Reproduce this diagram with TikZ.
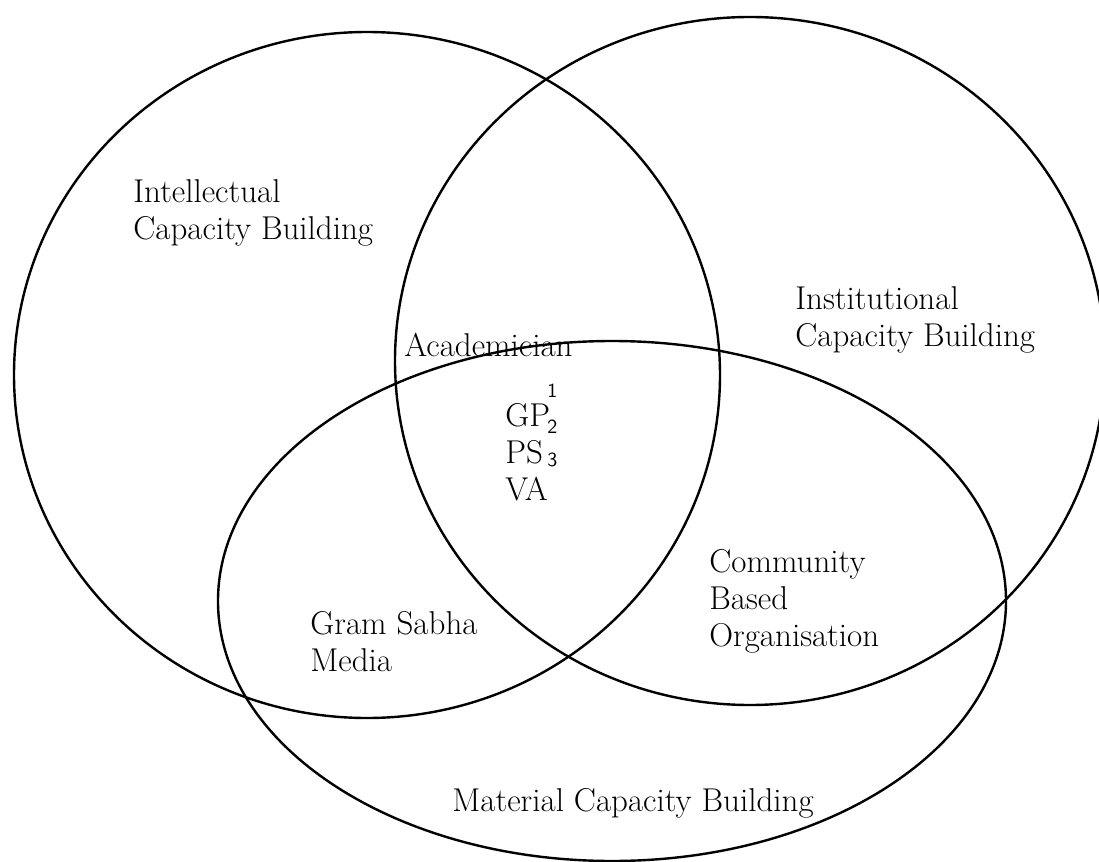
\documentclass[tikz,border=0pt]{standalone}
\usepackage{tikz}

\begin{document}
\begin{tikzpicture}[x=0.5pt, y=-0.5pt,
    set/.style={line width=1.2pt},
    lbl/.style={anchor=base west, inner sep=0pt, align=left, font=\fontsize{16.5}{18.5}\selectfont},
    idx/.style={anchor=base west, inner sep=0pt, font=\sffamily\fontsize{10}{12}\selectfont}]
    \useasboundingbox (0,0) rectangle (1099,862);

    % Los tres conjuntos
    \draw[set] (367,375) ellipse [x radius=353, y radius=343]; % Intellectual
    \draw[set] (750,361) ellipse [x radius=355, y radius=344]; % Institutional
    \draw[set] (612,601) ellipse [x radius=394, y radius=260]; % Material

    % Etiquetas de los conjuntos (base = ultima linea)
    \node[lbl] (intel) at (133,239) {Intellectual\\Capacity Building};
    \node[lbl] (inst) at (795,346) {Institutional\\Capacity Building};
    \node[lbl] (mat) at (452,811) {Material Capacity Building};

    % Etiquetas de las intersecciones
    \node[lbl] (acad) at (404,356) {Academician};
    \node[lbl] (core) at (505,500) {GP\\PS\\VA};
    \node[lbl] (gram) at (310,671) {Gram Sabha\\Media};
    \node[lbl] (cbo) at (709,646) {Community\\Based\\Organisation};

    % Indices junto a GP y PS
    \foreach \d/\y in {1/397, 2/433, 3/466} {
        \node[idx] (idx\d) at (547,\y) {\d}; % indice \d
    }

\end{tikzpicture}
\end{document}
